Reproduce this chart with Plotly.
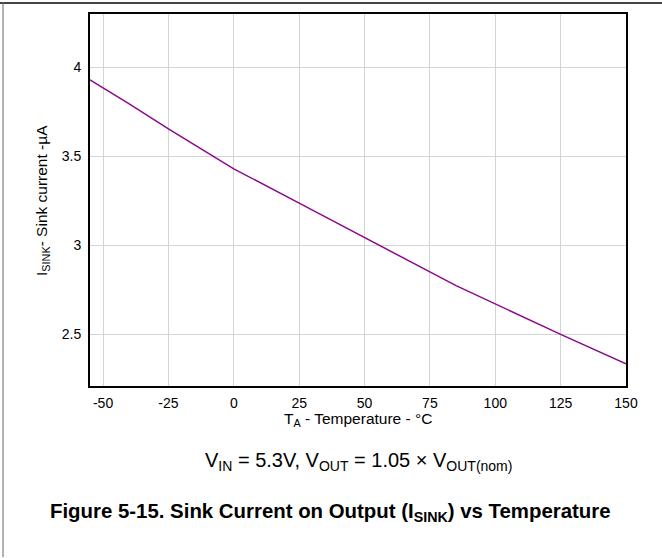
import plotly.graph_objects as go

temperature_c = [-55, -40, -25, 0, 25, 50, 85, 125, 150]
sink_current_ua = [3.93, 3.795, 3.655, 3.43, 3.237, 3.043, 2.774, 2.50, 2.335]

x_ticks = [-50, -25, 0, 25, 50, 75, 100, 125, 150]
y_ticks = [2.5, 3, 3.5, 4]
y_tick_text = ["2.5", "3", "3.5", "4"]

FONT = "Liberation Sans, Arial, sans-serif"

fig = go.Figure()
fig.add_trace(go.Scatter(
    x=temperature_c, y=sink_current_ua, mode="lines",
    line=dict(color="#8B0A8B", width=1.5), showlegend=False,
))

W, H = 662, 558
L, R, T, B = 90, 36, 12, 172
PW, PH = W - L - R, H - T - B


def px(x):
    return (x - L) / PW


def py(y):
    return 1 - (y - T) / PH


fig.update_layout(
    width=W, height=H,
    margin=dict(l=L, r=R, t=T, b=B),
    paper_bgcolor="white", plot_bgcolor="white",
    font=dict(family=FONT, size=14, color="#000"),
    xaxis=dict(
        range=[-55, 150], tickvals=x_ticks, ticktext=[str(v) for v in x_ticks],
        showgrid=True, gridcolor="#d4d4d4", gridwidth=1,
        showline=True, linecolor="black", linewidth=2, mirror=True,
        ticks="", ticklabelstandoff=3, zeroline=False,
        tickfont=dict(size=14, family=FONT),
    ),
    yaxis=dict(
        range=[2.21, 4.30], tickvals=y_ticks, ticktext=y_tick_text,
        showgrid=True, gridcolor="#d4d4d4", gridwidth=1,
        showline=True, linecolor="black", linewidth=2, mirror=True,
        ticks="", ticklabelstandoff=4, zeroline=False,
        tickfont=dict(size=14, family=FONT),
    ),
)

plot_cx_px = (L + (W - R)) / 2

annotations = [
    dict(text="T<sub>A</sub> - Temperature - °C", x=px(plot_cx_px), y=py(419.5),
         xref="paper", yref="paper", xanchor="center", yanchor="middle",
         showarrow=False, font=dict(size=15.5, family=FONT)),
    dict(text="I<sub>SINK</sub>- Sink current -µA", x=px(43), y=py(200),
         xref="paper", yref="paper", xanchor="center", yanchor="middle",
         textangle=-90, showarrow=False, font=dict(size=15.5, family=FONT)),
    dict(text="V<sub>IN</sub> = 5.3V, V<sub>OUT</sub> = 1.05 × V<sub>OUT(nom)</sub>",
         x=px(plot_cx_px), y=py(462), xref="paper", yref="paper",
         xanchor="center", yanchor="middle", showarrow=False,
         font=dict(size=20, family=FONT)),
    dict(text="<b>Figure 5-15. Sink Current on Output (I<sub>SINK</sub>) vs Temperature</b>",
         x=px(330), y=py(513), xref="paper", yref="paper",
         xanchor="center", yanchor="middle", showarrow=False,
         font=dict(size=20.4, family=FONT)),
]
fig.update_layout(annotations=annotations)

# outer frame (top and left edges visible in reference)
fig.add_shape(type="line", xref="paper", yref="paper",
              x0=px(0), x1=px(W), y0=py(1), y1=py(1),
              line=dict(color="#444", width=2))
fig.add_shape(type="line", xref="paper", yref="paper",
              x0=px(3), x1=px(3), y0=py(H), y1=py(0),
              line=dict(color="#666", width=1))

fig.write_html("out.html", config={"displayModeBar": False},
               post_script="document.body.style.margin='0';document.body.style.overflow='hidden';")
